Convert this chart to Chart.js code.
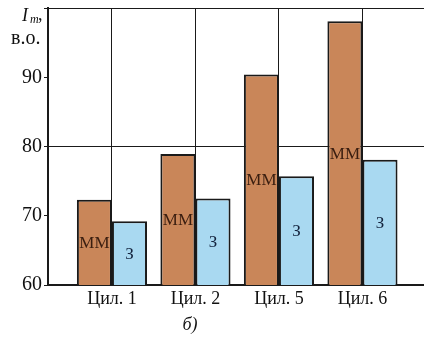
<!DOCTYPE html>
<html>
<head>
<meta charset="utf-8">
<script src="https://cdn.jsdelivr.net/npm/chart.js@4"></script>
<style>
html,body{margin:0;padding:0;background:#fff;}
#wrap{width:424px;height:343px;position:relative;}
</style>
</head>
<body>
<div id="wrap"><canvas id="c" width="424" height="343"></canvas></div>
<script>
const categories = ["Цил. 1", "Цил. 2", "Цил. 5", "Цил. 6"];
const seriesNames = ["ММ", "З"];
const mmValues = [72.3, 78.9, 90.4, 98.1];
const zValues = [69.2, 72.5, 75.7, 78.1];
const yTicks = [60, 70, 80, 90, 100];

const SERIF = "'Liberation Serif', 'DejaVu Serif', serif";

const barLabels = {
  id: 'barLabels',
  afterDraw(chart) {
    const ctx = chart.ctx;
    const yScale = chart.scales.y;
    const basePx = yScale.getPixelForValue(yScale.min);
    ctx.save();
    ctx.font = "17px " + SERIF;
    ctx.textAlign = 'center';
    ctx.textBaseline = 'middle';
    chart.data.datasets.forEach((ds, di) => {
      const meta = chart.getDatasetMeta(di);
      ctx.fillStyle = di === 0 ? '#3a1e10' : '#14243e';
      meta.data.forEach(el => {
        ctx.fillText(ds.label, el.x, (el.y + basePx) / 2 + 1);
      });
    });
    ctx.restore();
  }
};

const extraText = {
  id: 'extraText',
  afterDraw(chart) {
    const ctx = chart.ctx;
    ctx.save();
    ctx.fillStyle = '#111';
    ctx.textBaseline = 'alphabetic';
    ctx.textAlign = 'left';
    ctx.font = "italic 18px " + SERIF;
    ctx.fillText("I", 22, 21);
    ctx.font = "italic 12px " + SERIF;
    ctx.fillText("m", 30, 23);
    ctx.font = "18px " + SERIF;
    ctx.fillText(",", 38, 20);
    ctx.font = "20px " + SERIF;
    ctx.fillText("в.о.", 11, 44);
    ctx.font = "italic 18px " + SERIF;
    ctx.textAlign = 'center';
    ctx.fillText("б)", 190, 330);
    ctx.restore();
  }
};

new Chart(document.getElementById('c'), {
  type: 'bar',
  data: {
    datasets: [
      {
        label: seriesNames[0],
        data: mmValues.map((v, i) => ({x: i, y: v})),
        backgroundColor: '#C98659',
        borderColor: '#1a1a1a',
        borderWidth: 2,
        categoryPercentage: 0.84,
        barPercentage: 1.0
      },
      {
        label: seriesNames[1],
        data: zValues.map((v, i) => ({x: i, y: v})),
        backgroundColor: '#A9D9F1',
        borderColor: '#1a1a1a',
        borderWidth: 2,
        categoryPercentage: 0.84,
        barPercentage: 1.0
      }
    ]
  },
  options: {
    responsive: false,
    animation: false,
    devicePixelRatio: 1,
    layout: {padding: {top: 8, right: 0, left: 0, bottom: 0}},
    plugins: {legend: {display: false}, tooltip: {enabled: false}},
    scales: {
      x: {
        type: 'linear',
        offset: false,
        min: -0.766,
        max: 3.737,
        afterBuildTicks(scale) {
          scale.ticks = categories.map((c, i) => ({value: i}));
        },
        afterFit(scale) {
          scale.height = 58;
          scale.paddingLeft = 0; scale.paddingRight = 0;
        },
        ticks: {
          callback: (v) => categories[v] !== undefined ? categories[v] : '',
          font: {family: SERIF, size: 18},
          color: '#111',
          padding: 3,
          maxRotation: 0,
          autoSkip: false
        },
        grid: {
          color: '#1a1a1a',
          lineWidth: 1,
          drawTicks: false,
          offset: false
        },
        border: {color: '#1a1a1a', width: 2}
      },
      y: {
        min: 60,
        max: 100,
        afterBuildTicks(scale) {
          scale.ticks = yTicks.map(v => ({value: v}));
        },
        afterFit(scale) {
          scale.width = 48;
          scale.paddingTop = 0; scale.paddingBottom = 0;
        },
        ticks: {
          callback: (v) => v === 100 ? '' : String(v),
          font: {family: SERIF, size: 20},
          color: '#111',
          padding: 2
        },
        grid: {
          color: (ctx) => (ctx.tick && (ctx.tick.value === 80 || ctx.tick.value === 100)) ? '#1a1a1a' : 'rgba(0,0,0,0)',
          tickColor: '#1a1a1a',
          tickLength: 4,
          lineWidth: 1
        },
        border: {color: '#1a1a1a', width: 2}
      }
    }
  },
  plugins: [barLabels, extraText]
});
</script>
</body>
</html>
